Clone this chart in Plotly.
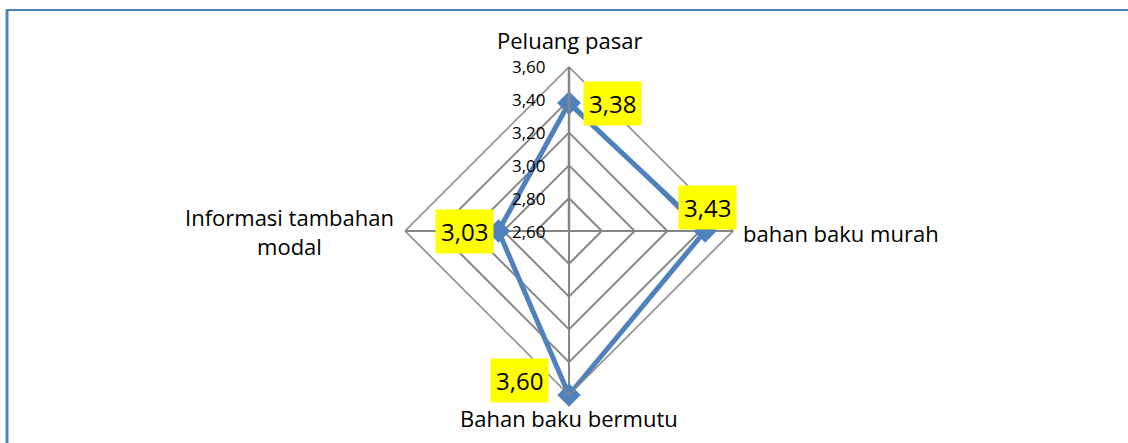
import math
import plotly.graph_objects as go

# Chart data
categories = ["Peluang pasar", "bahan baku murah", "Bahan baku bermutu", "Informasi tambahan<br>modal"]
values = [3.38, 3.43, 3.60, 3.03]
r_min, r_max = 2.60, 3.60
tick_values = [2.60, 2.80, 3.00, 3.20, 3.40, 3.60]

# label offsets (pixels) relative to each point, like Excel's label placement
label_shift = [(43, 0), (2, 24), (-50, 15), (-34, 0)]
# category label placement: (xanchor, yanchor, xshift, yshift)
cat_place = [("center", "bottom", 0, 10), ("left", "middle", 8, -2),
             ("center", "top", 0, -6), ("right", "middle", -9, 0)]

W, H = 1128, 443
cx, cy, rad = 569, 231, 164
dom_x = [(cx - rad) / W, (cx + rad) / W]
dom_y = [(H - cy - rad) / H, (H - cy + rad) / H]

grid_col = "#868686"
line_col = "#4F81BD"
font_family = "Open Sans"

fig = go.Figure()

fig.add_trace(go.Scatterpolar(
    r=values + values[:1],
    theta=categories + categories[:1],
    mode="lines+markers",
    line=dict(color=line_col, width=5),
    marker=dict(symbol="diamond", size=18, color=line_col),
    showlegend=False,
    hoverinfo="skip",
))


def to_xy(i, v):
    # project (category index, value) onto the overlay cartesian axes matching the polar circle
    ang = math.radians(90 - 360 * i / len(categories))
    k = (v - r_min) / (r_max - r_min)
    return k * math.cos(ang), k * math.sin(ang)


# Data labels
for i, v in enumerate(values):
    x, y = to_xy(i, v)
    fig.add_annotation(
        x=x, y=y, xref="x", yref="y",
        text=("%.2f" % v).replace(".", ","), showarrow=False,
        xshift=label_shift[i][0], yshift=label_shift[i][1],
        bgcolor="#FFFF00", font=dict(size=24, color="black", family=font_family),
        borderpad=5,
    )

# Category labels
for i, c in enumerate(categories):
    x, y = to_xy(i, r_max)
    xa, ya, xs, ys = cat_place[i]
    fig.add_annotation(
        x=x, y=y, xref="x", yref="y", text=c, showarrow=False,
        xanchor=xa, yanchor=ya, xshift=xs, yshift=ys, align="center",
        font=dict(size=22, color="black", family=font_family),
    )

# Radial tick labels
for t in tick_values:
    x, y = to_xy(0, t)
    fig.add_annotation(
        x=x, y=y, xref="x", yref="y", text=("%.2f" % t).replace(".", ","),
        showarrow=False, xanchor="right", yanchor="middle", xshift=-21,
        font=dict(size=17, color="black", family=font_family),
    )

fig.update_layout(
    width=W, height=H,
    margin=dict(l=0, r=0, t=0, b=0),
    paper_bgcolor="white", plot_bgcolor="rgba(0,0,0,0)",
    font=dict(family=font_family, color="black"),
    polar=dict(
        domain=dict(x=dom_x, y=dom_y),
        bgcolor="white",
        gridshape="linear",
        angularaxis=dict(
            direction="clockwise", rotation=90,
            showline=True, linecolor=grid_col, linewidth=1.5,
            gridcolor=grid_col, gridwidth=1.5,
            ticks="", showticklabels=False,
        ),
        radialaxis=dict(
            range=[r_min, r_max], angle=90,
            tickvals=tick_values,
            showline=True, linecolor=grid_col, linewidth=2.5,
            gridcolor=grid_col, gridwidth=1.5,
            ticks="", showticklabels=False,
        ),
    ),
    xaxis=dict(domain=dom_x, range=[-1, 1], visible=False, fixedrange=True),
    yaxis=dict(domain=dom_y, range=[-1, 1], visible=False, fixedrange=True),
    shapes=[
        dict(type="line", xref="paper", yref="paper", x0=7 / W, x1=7 / W, y0=0, y1=(H - 10) / H,
             line=dict(color=line_col, width=3)),
        dict(type="line", xref="paper", yref="paper", x0=6 / W, x1=1, y0=(H - 10) / H, y1=(H - 10) / H,
             line=dict(color=line_col, width=2)),
    ],
)

fig.write_html("out.html", config={"displayModeBar": False},
               post_script="document.body.style.margin='0';")
